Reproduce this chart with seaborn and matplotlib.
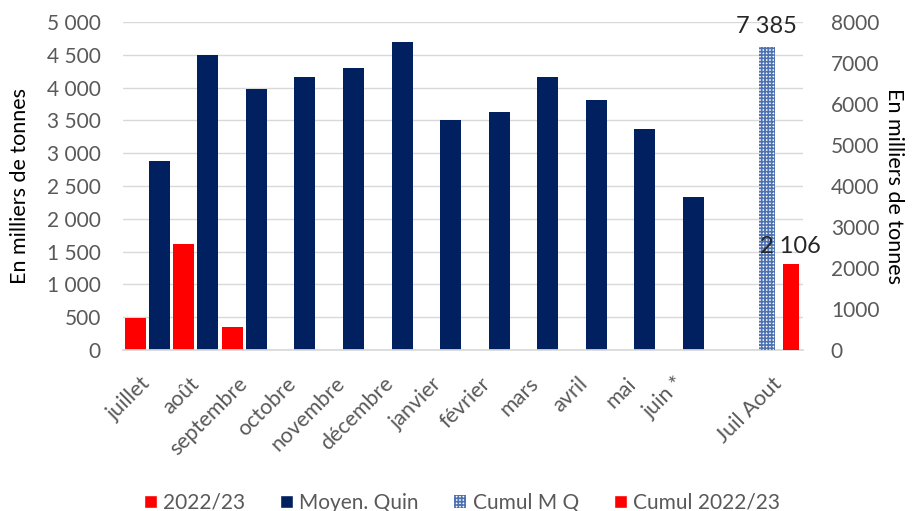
import numpy as np
import pandas as pd
import matplotlib
matplotlib.use("Agg")
import matplotlib.pyplot as plt
import seaborn as sns
from matplotlib.ticker import FuncFormatter
from matplotlib.patches import Patch

# data
months = ['juillet', 'août', 'septembre', 'octobre', 'novembre', 'décembre',
          'janvier', 'février', 'mars', 'avril', 'mai', 'juin *', ' ', 'Juil Aout']
campagne = [485, 1621, 355]                     # 2022/23 (jul..sep)
moyen_quin = [2883, 4502, 3975, 4168, 4305, 4695, 3502, 3630, 4160, 3810, 3366, 2328]
cumul_mq = 7385
cumul_2223 = 2106

NAVY = '#002060'
RED = '#ff0000'
GREY = '#595959'

sns.set_theme(style='white')
plt.rcParams['font.family'] = ['Lato', 'DejaVu Sans']
plt.rcParams['hatch.linewidth'] = 1.2

rows = []
for m, v in zip(months, campagne):
    rows.append((m, '2022/23', v))
for m, v in zip(months, moyen_quin):
    rows.append((m, 'Moyen. Quin', v))
df = pd.DataFrame(rows, columns=['mois', 'serie', 'valeur'])

df2 = pd.DataFrame({'mois': ['Juil Aout', 'Juil Aout'],
                    'serie': ['Cumul M Q', 'Cumul 2022/23'],
                    'valeur': [cumul_mq, cumul_2223]})

fig = plt.figure(figsize=(9.15, 5.11), dpi=100)
ax = fig.add_axes([0.1344, 0.315, 0.7432, 0.642])

sns.barplot(data=df, x='mois', y='valeur', hue='serie', order=months,
            hue_order=['2022/23', 'Moyen. Quin'], palette=[RED, NAVY], saturation=1,
            width=0.98, gap=0.12, ax=ax, legend=False, errorbar=None)

ax.set_ylim(0, 5000)
ax.set_yticks(np.arange(0, 5001, 500))
ax.yaxis.set_major_formatter(FuncFormatter(lambda v, p: f'{int(v):,}'.replace(',', ' ')))
ax.grid(axis='y', color='#d9d9d9', linewidth=1)
ax.set_axisbelow(True)
for s in ['top', 'right', 'left']:
    ax.spines[s].set_visible(False)
ax.spines['bottom'].set_color('#d9d9d9')
ax.set_xlabel('')
ax.set_ylabel('En milliers de tonnes', fontsize=15.5, color='black', labelpad=12)
ax.tick_params(axis='y', labelsize=15, labelcolor=GREY, length=0, pad=16)
ax.tick_params(axis='x', labelsize=15.5, labelcolor=GREY, length=0, pad=22)
for lab in ax.get_xticklabels():
    lab.set_rotation(45)
    lab.set_ha('right')
    lab.set_va('center')
    lab.set_rotation_mode('anchor')

ax2 = ax.twinx()
sns.barplot(data=df2, x='mois', y='valeur', hue='serie', order=months,
            hue_order=['Cumul M Q', 'Cumul 2022/23'], palette=['#ffffff', RED], saturation=1,
            width=1.0, gap=0.34, ax=ax2, legend=False, errorbar=None)
ax2.set_ylim(0, 8000)
ax2.set_yticks(np.arange(0, 8001, 1000))
for s in ['top', 'right', 'left', 'bottom']:
    ax2.spines[s].set_visible(False)
ax2.set_xlabel('')
ax2.set_ylabel('En milliers de tonnes', fontsize=15.5, color='black', rotation=270, labelpad=18)
ax2.tick_params(axis='y', labelsize=15, labelcolor=GREY, length=0, pad=20)
ax2.grid(False)

for p in ax2.containers[0].patches:
    p.set_facecolor('#ffffff')
    p.set_edgecolor('#4f72b0')
    p.set_hatch('+++++')
    p.set_linewidth(0)
for p in ax2.containers[1].patches:
    p.set_linewidth(0)
for p in ax.patches:
    p.set_linewidth(0)

ax2.bar_label(ax2.containers[0], labels=['7 385'], padding=7, fontsize=17, color='#262626')
ax2.bar_label(ax2.containers[1], labels=['2 106'], padding=5, fontsize=17, color='#262626')

handles = [Patch(facecolor=RED), Patch(facecolor=NAVY),
           Patch(facecolor='#ffffff', edgecolor='#4f72b0', hatch='+++++', linewidth=0),
           Patch(facecolor=RED)]
labels = ['2022/23', 'Moyen. Quin', 'Cumul M Q', 'Cumul 2022/23']
leg = fig.legend(handles, labels, loc='lower center', bbox_to_anchor=(0.505, -0.04), ncol=4,
                 frameon=False, fontsize=15, handlelength=0.6, handleheight=0.6,
                 handletextpad=0.3, columnspacing=1.7)
for t in leg.get_texts():
    t.set_color(GREY)

fig.savefig('out.png', dpi=100)
